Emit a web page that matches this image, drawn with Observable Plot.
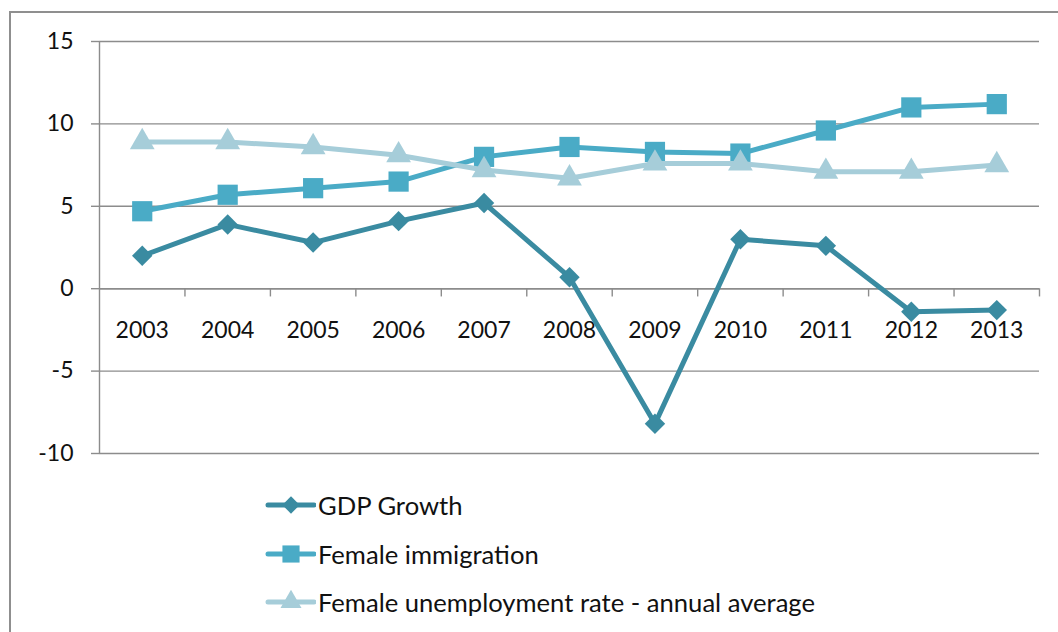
<!DOCTYPE html>
<html>
<head>
<meta charset="utf-8">
<script src="https://cdn.jsdelivr.net/npm/d3@7"></script>
<script src="https://cdn.jsdelivr.net/npm/@observablehq/plot@0.6"></script>
<style>
  html, body { margin: 0; padding: 0; background: #fff; }
  #wrap { position: relative; width: 1058px; height: 632px; overflow: hidden; font-family: Lato, "Open Sans", sans-serif; }
  #frame { position: absolute; left: 9px; top: 11px; width: 1200px; height: 800px;
           border-left: 2px solid #8f8f8f; border-top: 2px solid #8f8f8f; }
  #chart { position: absolute; left: 0; top: 0; }
  #legend { position: absolute; left: 264px; top: 481px; }
  .row { display: flex; align-items: center; height: 48.5px; font-size: 25.6px; color: #111; }
  .row svg { display: block; margin-right: 2px; }
</style>
</head>
<body>
<div id="wrap">
  <div id="frame"></div>
  <div id="chart"></div>
  <div id="legend"></div>
</div>
<script>
// Years on the category axis
const years = [2003, 2004, 2005, 2006, 2007, 2008, 2009, 2010, 2011, 2012, 2013];

// Series values (%)
const gdpGrowth = [2.0, 3.9, 2.8, 4.1, 5.2, 0.7, -8.2, 3.0, 2.6, -1.4, -1.3];
const femaleImmigration = [4.7, 5.7, 6.1, 6.5, 8.0, 8.6, 8.3, 8.2, 9.6, 11.0, 11.2];
const femaleUnemployment = [8.9, 8.9, 8.6, 8.1, 7.2, 6.7, 7.6, 7.6, 7.1, 7.1, 7.5];

// Value axis ticks
const yTicks = [15, 10, 5, 0, -5, -10];

const seriesNames = ["GDP Growth", "Female immigration", "Female unemployment rate - annual average"];
const seriesColors = ["#3a8ba1", "#4aabc6", "#a6cdd9"];
const seriesSymbols = ["diamond2", "square", "triangle"];
const seriesR = [9.2, 11.4, 9.2];
const seriesValues = [gdpGrowth, femaleImmigration, femaleUnemployment];

const series = seriesNames.map((name, i) => ({
  name,
  color: seriesColors[i],
  symbol: seriesSymbols[i],
  r: seriesR[i],
  rows: years.map((year, j) => ({year, value: seriesValues[i][j]}))
}));

// Category boundaries: tick marks sit between the years
const boundaries = [years[0] - 0.5, ...years.map(y => y + 0.5)];

const gridColor = "#8c8c8c";

const marks = [
  Plot.gridY(yTicks, {stroke: gridColor, strokeOpacity: 1, strokeWidth: 1.4}),
  Plot.axisY(yTicks, {tickSize: 8, tickPadding: 18, stroke: gridColor, strokeWidth: 1.4, fill: "#111",
                      fontSize: 23, label: null, tickFormat: d => String(d)}),
  Plot.ruleX([boundaries[0]], {stroke: gridColor, strokeWidth: 1.4}),
  Plot.ruleY([0], {stroke: gridColor, strokeWidth: 1.4}),
  Plot.ruleX(boundaries.slice(1), {y1: 0, y2: -0.5, stroke: gridColor, strokeWidth: 1.4}),
  Plot.text(years, {x: d => d, y: 0, dy: 42, text: d => String(d), fontSize: 23, fill: "#111"})
];

for (const s of series) {
  marks.push(Plot.line(s.rows, {x: "year", y: "value", stroke: s.color, strokeWidth: 5, strokeLinejoin: "round", strokeLinecap: "round"}));
  marks.push(Plot.dot(s.rows, {x: "year", y: "value", symbol: () => s.symbol, fill: s.color, r: s.r, stroke: "none"}));
}

const chart = Plot.plot({
  width: 1058,
  height: 470,
  marginLeft: 99,
  marginRight: 19,
  marginTop: 41,
  marginBottom: 17,
  style: {fontFamily: "Lato, 'Open Sans', sans-serif", fontSize: "23px", background: "transparent", color: "#111"},
  x: {type: "linear", domain: [boundaries[0], boundaries[boundaries.length - 1]], axis: null},
  y: {domain: [-10, 15], axis: null},
  symbol: {type: "identity"},
  marks
});
document.getElementById("chart").appendChild(chart);

// Legend rows: line swatch with the series marker, then the name
const legend = document.getElementById("legend");
for (const s of series) {
  const row = document.createElement("div");
  row.className = "row";
  const sw = d3.create("svg").attr("width", 52).attr("height", 28);
  sw.append("line").attr("x1", 4).attr("x2", 50).attr("y1", 14).attr("y2", 14)
    .attr("stroke", s.color).attr("stroke-width", 5).attr("stroke-linecap", "round");
  const symType = {diamond2: d3.symbolDiamond2, square: d3.symbolSquare, triangle: d3.symbolTriangle}[s.symbol];
  sw.append("path").attr("transform", "translate(27,14)")
    .attr("d", d3.symbol(symType, Math.PI * s.r * s.r * 0.72)())
    .attr("fill", s.color);
  row.appendChild(sw.node());
  const label = document.createElement("span");
  label.textContent = s.name;
  row.appendChild(label);
  legend.appendChild(row);
}
</script>
</body>
</html>
